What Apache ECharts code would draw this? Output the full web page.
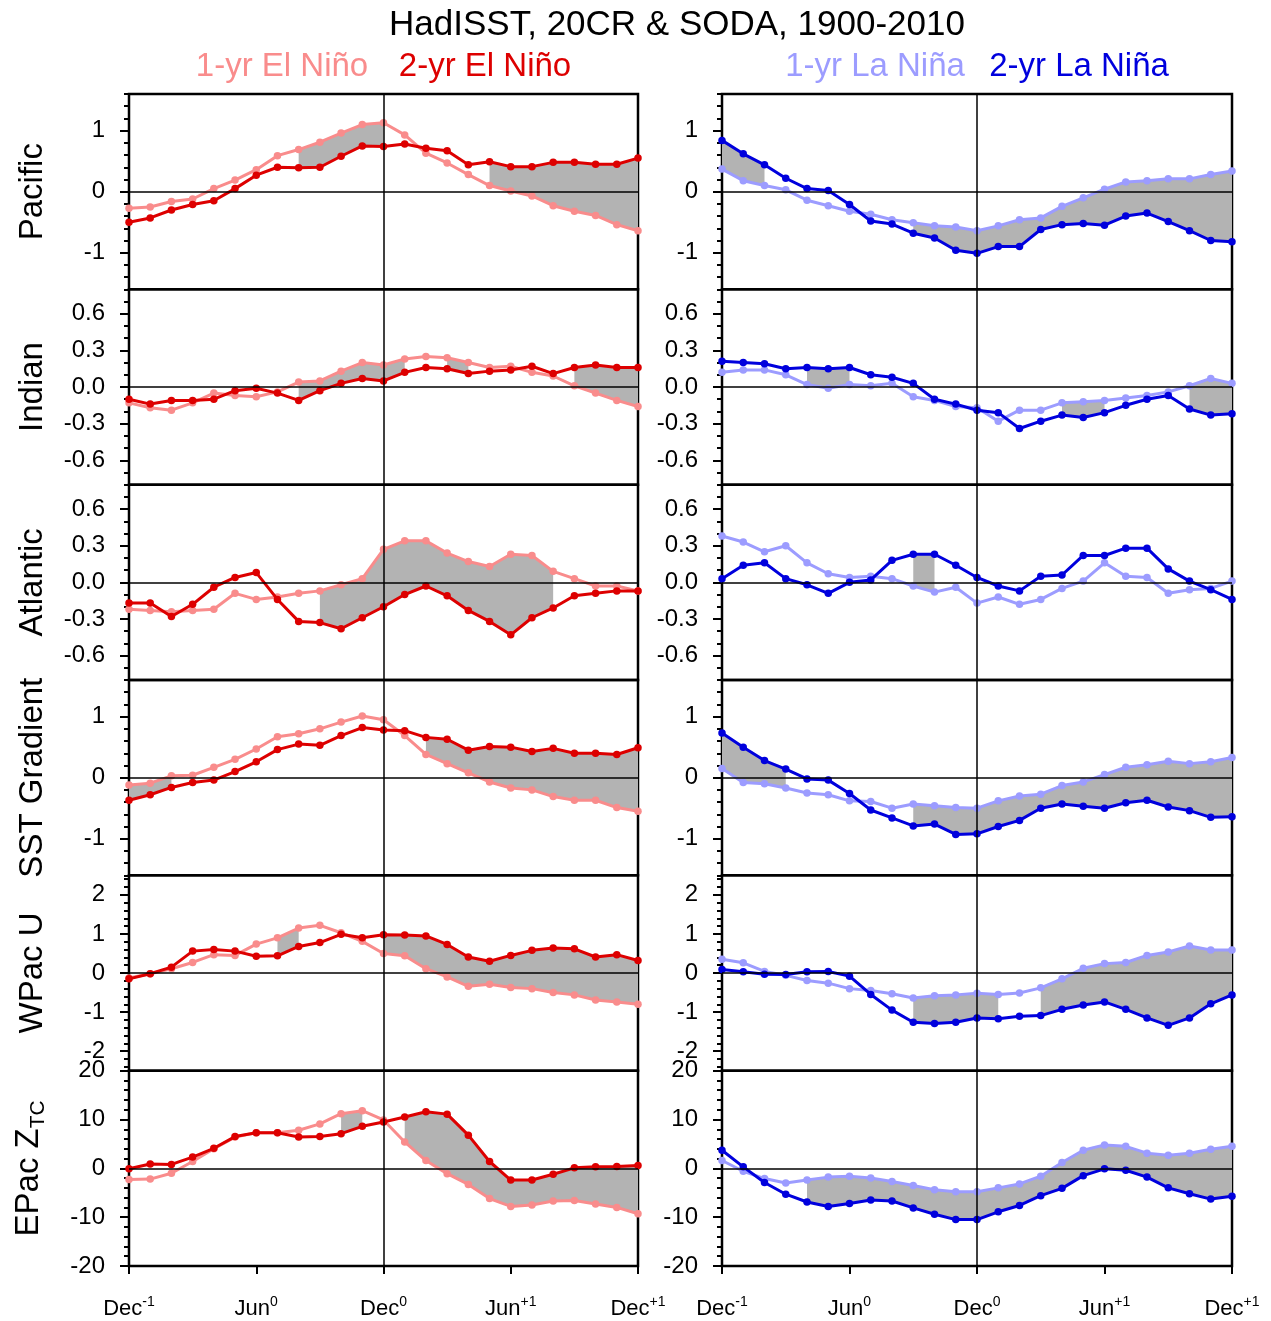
<!DOCTYPE html>
<html>
<head>
<meta charset="utf-8">
<script src="https://cdn.jsdelivr.net/npm/echarts@6/dist/echarts.min.js"></script>
<style>
  html, body { margin: 0; padding: 0; background: #fff; }
  #chart { width: 1271px; height: 1321px; }
</style>
</head>
<body>
<div id="chart"></div>
<script>
  // x runs over 25 months, Dec(-1) .. Dec(+1); points are month indices 0..24
  var xTicks = [0, 6, 12, 18, 24]
  var xTickMonth = ['Dec', 'Jun', 'Dec', 'Jun', 'Dec']
  var xTickYear = ['-1', '0', '0', '+1', '+1']

  // Pacific
  var pacElNino1 = [-0.27,-0.25,-0.16,-0.12,0.05,0.19,0.36,0.59,0.69,0.81,0.96,1.10,1.13,0.93,0.63,0.47,0.28,0.10,0.01,-0.07,-0.23,-0.32,-0.39,-0.54,-0.64]
  var pacElNino2 = [-0.50,-0.43,-0.30,-0.21,-0.15,0.05,0.27,0.40,0.39,0.40,0.58,0.75,0.74,0.78,0.71,0.67,0.44,0.49,0.41,0.41,0.48,0.48,0.45,0.45,0.55]
  var pacElNinoSig = [[8, 12], [17, 24]]
  var pacLaNina1 = [0.37,0.18,0.10,0.03,-0.14,-0.23,-0.32,-0.37,-0.46,-0.51,-0.56,-0.58,-0.64,-0.56,-0.46,-0.43,-0.24,-0.10,0.04,0.16,0.18,0.21,0.21,0.28,0.34]
  var pacLaNina2 = [0.84,0.62,0.44,0.22,0.05,0.02,-0.21,-0.48,-0.53,-0.68,-0.76,-0.96,-1.01,-0.90,-0.90,-0.62,-0.54,-0.52,-0.55,-0.40,-0.35,-0.49,-0.64,-0.80,-0.82]
  var pacLaNinaSig = [[0, 2], [9, 24]]
  var pacTicks = [-1, 0, 1]

  // Indian
  var indElNino1 = [-0.13,-0.17,-0.19,-0.13,-0.05,-0.07,-0.08,-0.04,0.04,0.05,0.13,0.20,0.18,0.23,0.25,0.24,0.20,0.16,0.17,0.12,0.09,0.01,-0.05,-0.11,-0.16]
  var indElNino2 = [-0.10,-0.14,-0.11,-0.11,-0.10,-0.03,-0.01,-0.05,-0.11,-0.03,0.03,0.07,0.05,0.12,0.16,0.15,0.11,0.13,0.14,0.17,0.11,0.16,0.18,0.16,0.16]
  var indElNinoSig = [[8, 13], [15, 16], [21, 24]]
  var indLaNina1 = [0.12,0.14,0.14,0.10,0.02,-0.01,0.02,0.01,0.03,-0.08,-0.11,-0.16,-0.17,-0.28,-0.19,-0.19,-0.13,-0.12,-0.11,-0.09,-0.07,-0.04,0.01,0.07,0.03]
  var indLaNina2 = [0.21,0.20,0.19,0.15,0.16,0.15,0.16,0.10,0.08,0.03,-0.10,-0.14,-0.19,-0.21,-0.34,-0.28,-0.23,-0.25,-0.21,-0.15,-0.10,-0.07,-0.18,-0.23,-0.22]
  var indLaNinaSig = [[4, 6], [16, 18], [22, 24]]
  var indTicks = [-0.6, -0.3, 0, 0.3, 0.6]

  // Atlantic
  var atlElNino1 = [-0.22,-0.23,-0.24,-0.23,-0.22,-0.09,-0.14,-0.12,-0.09,-0.07,-0.02,0.03,0.27,0.34,0.34,0.24,0.17,0.13,0.23,0.22,0.09,0.03,-0.03,-0.03,-0.07]
  var atlElNino2 = [-0.17,-0.17,-0.28,-0.18,-0.04,0.04,0.08,-0.14,-0.32,-0.33,-0.38,-0.29,-0.20,-0.10,-0.03,-0.11,-0.23,-0.32,-0.43,-0.29,-0.21,-0.11,-0.09,-0.07,-0.07]
  var atlElNinoSig = [[9, 20]]
  var atlLaNina1 = [0.38,0.33,0.25,0.30,0.16,0.07,0.04,0.05,0.03,-0.03,-0.08,-0.04,-0.17,-0.12,-0.18,-0.14,-0.05,0.01,0.16,0.05,0.04,-0.09,-0.06,-0.05,0.01]
  var atlLaNina2 = [0.03,0.14,0.16,0.03,-0.02,-0.09,0.00,0.02,0.18,0.23,0.23,0.14,0.04,-0.03,-0.07,0.05,0.06,0.22,0.22,0.28,0.28,0.11,0.01,-0.06,-0.14]
  var atlLaNinaSig = [[9, 10]]
  var atlTicks = [-0.6, -0.3, 0, 0.3, 0.6]

  // SST Gradient
  var sstElNino1 = [-0.12,-0.09,0.03,0.04,0.17,0.30,0.47,0.67,0.72,0.80,0.91,1.01,0.95,0.69,0.38,0.23,0.08,-0.07,-0.17,-0.20,-0.31,-0.37,-0.37,-0.49,-0.55]
  var sstElNino2 = [-0.37,-0.28,-0.16,-0.08,-0.04,0.10,0.26,0.46,0.55,0.53,0.69,0.82,0.78,0.77,0.66,0.63,0.45,0.51,0.50,0.43,0.48,0.40,0.40,0.38,0.49]
  var sstElNinoSig = [[0, 2], [14, 24]]
  var sstLaNina1 = [0.15,-0.08,-0.10,-0.17,-0.25,-0.28,-0.38,-0.39,-0.50,-0.43,-0.46,-0.49,-0.50,-0.38,-0.30,-0.27,-0.13,-0.07,0.05,0.17,0.21,0.27,0.23,0.26,0.33]
  var sstLaNina2 = [0.73,0.50,0.28,0.14,-0.02,-0.04,-0.26,-0.53,-0.66,-0.79,-0.76,-0.93,-0.92,-0.80,-0.70,-0.50,-0.43,-0.47,-0.50,-0.41,-0.37,-0.48,-0.54,-0.65,-0.64]
  var sstLaNinaSig = [[0, 3], [9, 24]]
  var sstTicks = [-1, 0, 1]

  // WPac U
  var wpuElNino1 = [-0.13,-0.02,0.11,0.27,0.47,0.45,0.74,0.90,1.15,1.22,1.03,0.81,0.50,0.44,0.11,-0.10,-0.34,-0.29,-0.37,-0.40,-0.50,-0.56,-0.69,-0.74,-0.80]
  var wpuElNino2 = [-0.15,-0.02,0.15,0.56,0.60,0.56,0.43,0.44,0.68,0.78,0.99,0.90,0.98,0.97,0.95,0.73,0.41,0.30,0.45,0.58,0.64,0.62,0.41,0.47,0.32]
  var wpuElNinoSig = [[7, 8], [12, 24]]
  var wpuLaNina1 = [0.35,0.26,0.04,-0.06,-0.19,-0.26,-0.40,-0.45,-0.53,-0.64,-0.58,-0.56,-0.52,-0.55,-0.51,-0.38,-0.15,0.12,0.24,0.27,0.45,0.54,0.69,0.59,0.59]
  var wpuLaNina2 = [0.09,0.03,-0.03,-0.04,0.03,0.04,-0.08,-0.55,-0.95,-1.26,-1.29,-1.26,-1.15,-1.17,-1.11,-1.09,-0.93,-0.82,-0.74,-0.93,-1.15,-1.34,-1.15,-0.79,-0.56]
  var wpuLaNinaSig = [[9, 13], [15, 24]]
  var wpuTicks = [-2, -1, 0, 1, 2]

  // EPac Z_TC
  var epzElNino1 = [-2.3,-2.2,-1.0,1.4,4.0,6.4,7.3,7.3,7.8,9.1,11.2,11.8,9.9,5.4,1.6,-1.1,-3.3,-6.2,-7.8,-7.5,-6.7,-6.6,-7.3,-8.0,-9.3]
  var epzElNino2 = [-0.1,0.9,0.8,2.3,4.1,6.5,7.3,7.3,6.4,6.5,7.1,8.6,9.5,10.5,11.6,11.1,6.8,1.4,-2.4,-2.4,-1.2,0.1,0.3,0.4,0.6]
  var epzElNinoSig = [[10, 11], [13, 24]]
  var epzLaNina1 = [1.6,-0.6,-2.1,-3.0,-2.4,-1.8,-1.6,-2.0,-2.7,-3.5,-4.4,-4.8,-4.8,-4.0,-3.2,-1.6,1.2,3.7,4.8,4.5,3.1,2.7,3.1,3.9,4.5]
  var epzLaNina2 = [3.7,0.3,-2.9,-5.3,-6.9,-7.8,-7.2,-6.5,-6.7,-8.1,-9.4,-10.5,-10.5,-8.9,-7.6,-5.6,-4.1,-1.5,-0.1,-0.4,-1.8,-4.0,-5.2,-6.3,-5.7]
  var epzLaNinaSig = [[4, 24]]
  var epzTicks = [-20, -10, 0, 10, 20]

  var FONT = 'Liberation Sans'
  var LIGHT_RED = '#f98c8c', RED = '#dd0000'
  var LIGHT_BLUE = '#9c9cff', BLUE = '#0000dd'
  var SHADE = '#b3b3b3'

  // one row per variable: axis range, minor tick step, label decimals
  var rows = [
    { name: 'Pacific', min: -1.6, max: 1.6, minor: 0.2, dec: 0, ticks: pacTicks,
      el: [pacElNino1, pacElNino2, pacElNinoSig], la: [pacLaNina1, pacLaNina2, pacLaNinaSig] },
    { name: 'Indian', min: -0.8, max: 0.8, minor: 0.1, dec: 1, ticks: indTicks,
      el: [indElNino1, indElNino2, indElNinoSig], la: [indLaNina1, indLaNina2, indLaNinaSig] },
    { name: 'Atlantic', min: -0.8, max: 0.8, minor: 0.1, dec: 1, ticks: atlTicks,
      el: [atlElNino1, atlElNino2, atlElNinoSig], la: [atlLaNina1, atlLaNina2, atlLaNinaSig] },
    { name: 'SST Gradient', min: -1.6, max: 1.6, minor: 0.2, dec: 0, ticks: sstTicks,
      el: [sstElNino1, sstElNino2, sstElNinoSig], la: [sstLaNina1, sstLaNina2, sstLaNinaSig] },
    { name: 'WPac U', min: -2.5, max: 2.5, minor: 0.2, dec: 0, ticks: wpuTicks,
      el: [wpuElNino1, wpuElNino2, wpuElNinoSig], la: [wpuLaNina1, wpuLaNina2, wpuLaNinaSig] },
    { name: '{n|EPac Z}{s|TC}', min: -20, max: 20, minor: 2, dec: 0, ticks: epzTicks,
      el: [epzElNino1, epzElNino2, epzElNinoSig], la: [epzLaNina1, epzLaNina2, epzLaNinaSig] }
  ]

  function minorValues(min, max, step) {
    var out = []
    for (var v = Math.ceil(min / step - 1e-9); v * step <= max + 1e-9; v++) {
      out.push(Math.round(v * step * 1000) / 1000)
    }
    return out
  }

  function lineSeries(k, vals, color, z, withRef) {
    var s = {
      type: 'line', xAxisIndex: k, yAxisIndex: 2 * k, z: z, silent: true,
      data: vals.map(function (v, i) { return [i, v] }),
      symbol: 'circle', symbolSize: 7.5, showAllSymbol: true,
      lineStyle: { color: color, width: 3 },
      itemStyle: { color: color }
    }
    if (withRef) {
      s.markLine = {
        silent: true, symbol: ['none', 'none'], label: { show: false },
        lineStyle: { color: '#000', width: 1.5, type: 'solid' },
        data: [{ xAxis: 12 }, { yAxis: 0 }]
      }
    }
    return s
  }

  // grey band between the two curves where the difference is significant
  function bandSeries(k, a, b, sig) {
    return {
      type: 'custom', xAxisIndex: k, yAxisIndex: 2 * k, z: 1, silent: true,
      data: sig.map(function (s) { return [s[0], 0, s[1]] }),
      encode: { x: 0, y: 1 },
      renderItem: function (params, api) {
        var s = api.value(0), e = api.value(2), pts = []
        for (var i = s; i <= e; i++) pts.push(api.coord([i, a[i]]))
        for (var j = e; j >= s; j--) pts.push(api.coord([j, b[j]]))
        return { type: 'polygon', shape: { points: pts }, style: { fill: SHADE } }
      }
    }
  }

  var grids = [], xAxes = [], yAxes = [], series = []
  var rowH = (1266 - 94) / 6

  rows.forEach(function (row, r) {
    [0, 1].forEach(function (c) {
      var k = r * 2 + c
      var bottom = r === 5
      grids.push({
        left: c === 0 ? 129 : 722, width: c === 0 ? 509 : 510,
        top: 94 + r * rowH, height: rowH,
        show: true, borderColor: '#000', borderWidth: 2.5,
        backgroundColor: 'transparent', outerBoundsMode: 'none'
      })
      xAxes.push({
        type: 'value', gridIndex: k, min: 0, max: 24, interval: 6, position: 'bottom',
        axisLine: { show: false, onZero: false }, splitLine: { show: false },
        axisTick: { show: bottom, length: 8, lineStyle: { color: '#000', width: 2 } },
        axisLabel: {
          show: bottom, margin: 29,
          formatter: function (v) {
            var i = xTicks.indexOf(v)
            return '{m|' + xTickMonth[i] + '}{s|' + xTickYear[i] + '}'
          },
          rich: {
            m: { fontSize: 22, fontFamily: FONT, color: '#000', lineHeight: 28 },
            s: { fontSize: 14, fontFamily: FONT, color: '#000', lineHeight: 14, verticalAlign: 'top' }
          }
        }
      })
      var yMain = {
        type: 'value', gridIndex: k, min: row.min, max: row.max, position: 'left',
        axisLine: { show: false, onZero: false }, splitLine: { show: false },
        axisTick: { show: true, customValues: row.ticks, length: 9, lineStyle: { color: '#000', width: 2 } },
        axisLabel: {
          customValues: row.ticks, margin: 24, fontSize: 24, fontFamily: FONT, color: '#000',
          formatter: function (v) { return Number(v).toFixed(row.dec) }
        }
      }
      if (c === 0) {
        yMain.name = row.name
        yMain.nameLocation = 'middle'
        yMain.nameRotate = 90
        yMain.nameGap = 80
        yMain.nameTextStyle = {
          fontSize: 33, fontFamily: FONT, color: '#000',
          rich: {
            n: { fontSize: 33, fontFamily: FONT, color: '#000', lineHeight: 40 },
            s: { fontSize: 21, fontFamily: FONT, color: '#000', lineHeight: 24, verticalAlign: 'bottom' }
          }
        }
      }
      yAxes.push(yMain)
      yAxes.push({
        type: 'value', gridIndex: k, min: row.min, max: row.max, position: 'left', offset: 0,
        axisLine: { show: false, onZero: false }, splitLine: { show: false },
        axisTick: { show: true, customValues: minorValues(row.min, row.max, row.minor), length: 5, lineStyle: { color: '#000', width: 2 } },
        axisLabel: { show: false }
      })
      var d = c === 0 ? row.el : row.la
      var light = c === 0 ? LIGHT_RED : LIGHT_BLUE
      var dark = c === 0 ? RED : BLUE
      series.push(bandSeries(k, d[0], d[1], d[2]))
      series.push(lineSeries(k, d[0], light, 2, true))
      series.push(lineSeries(k, d[1], dark, 3, false))
    })
  })

  function label(text, x, y, size, color) {
    return {
      type: 'text', x: x, y: y, silent: true,
      style: { text: text, fontSize: size, fontFamily: FONT, fill: color, align: 'center', verticalAlign: 'middle' }
    }
  }

  var chart = echarts.init(document.getElementById('chart'))
  chart.setOption({
    animation: false,
    backgroundColor: '#fff',
    grid: grids,
    xAxis: xAxes,
    yAxis: yAxes,
    series: series,
    graphic: [
      label('HadISST, 20CR & SODA, 1900-2010', 677, 25, 35, '#000'),
      label('1-yr El Niño', 282, 67, 33, LIGHT_RED),
      label('2-yr El Niño', 485, 67, 33, RED),
      label('1-yr La Niña', 875, 67, 33, LIGHT_BLUE),
      label('2-yr La Niña', 1079, 67, 33, BLUE)
    ]
  })
</script>
</body>
</html>
